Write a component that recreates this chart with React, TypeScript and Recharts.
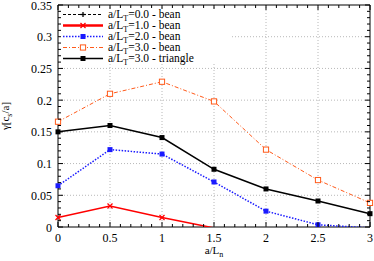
import React from 'react';
import { LineChart, Line, XAxis, YAxis, ReferenceLine, ReferenceArea } from 'recharts';

// ---- data ----
const aLn = [0, 0.5, 1, 1.5, 2, 2.5, 3];
const beanLT1 = [0.015, 0.033, 0.015, -0.0015, null, null, null];
const beanLT2 = [0.065, 0.122, 0.115, 0.071, 0.025, 0.0035, -0.0015];
const beanLT3 = [0.166, 0.21, 0.229, 0.198, 0.122, 0.074, 0.038];
const triLT3 = [0.15, 0.16, 0.141, 0.091, 0.06, 0.041, 0.021];

const xMajor = [0, 0.5, 1, 1.5, 2, 2.5, 3];
const yMajor = [0, 0.05, 0.1, 0.15, 0.2, 0.25, 0.3, 0.35];
const xGrid = [0.5, 1, 1.5, 2, 2.5];
const yGrid = [0.05, 0.1, 0.15, 0.2, 0.25, 0.3];

const xTicks: number[] = [];
for (let i = 0; i <= 30; i++) xTicks.push(Math.round(i) / 10);
const yTicks: number[] = [];
for (let i = 0; i <= 35; i++) yTicks.push(Math.round(i) / 100);

const data = aLn.map((x, i) => ({
  x,
  lt1: beanLT1[i],
  lt2: beanLT2[i],
  lt3: beanLT3[i],
  tri: triLT3[i],
}));

// ---- layout ----
const W = 374;
const H = 261;
const MARGIN = { top: 5, right: 4, left: 8, bottom: 4 };
const Y_AXIS_W = 50;
const X_AXIS_H = 30;
const PLOT = {
  left: MARGIN.left + Y_AXIS_W,
  right: W - MARGIN.right,
  top: MARGIN.top,
  bottom: H - MARGIN.bottom - X_AXIS_H,
};
const FONT = "'Liberation Serif', 'Times New Roman', 'DejaVu Serif', serif";

const RED = '#ff0000';
const BLUE = '#1a1aff';
const ORANGE = '#ff5a1a';
const BLACK = '#000000';

const isIn = (v: number, arr: number[]) => arr.some((a) => Math.abs(a - v) < 1e-9);

const XTick = (props: any) => {
  const { x, payload } = props;
  const v = payload.value;
  const major = isIn(v, xMajor);
  const len = major ? 5 : 3;
  return (
    <g>
      <line x1={x} x2={x} y1={PLOT.bottom} y2={PLOT.bottom - len} stroke="#000" strokeWidth={1} />
      <line x1={x} x2={x} y1={PLOT.top} y2={PLOT.top + len} stroke="#000" strokeWidth={1} />
      {major && (
        <text x={x} y={PLOT.bottom + 15} textAnchor="middle" style={{ fontFamily: FONT }} fontSize={12} fill="#000">
          {String(v)}
        </text>
      )}
    </g>
  );
};

const YTick = (props: any) => {
  const { y, payload } = props;
  const v = payload.value;
  const major = isIn(v, yMajor);
  const len = major ? 5 : 3;
  return (
    <g>
      <line x1={PLOT.left} x2={PLOT.left + len} y1={y} y2={y} stroke="#000" strokeWidth={1} />
      <line x1={PLOT.right} x2={PLOT.right - len} y1={y} y2={y} stroke="#000" strokeWidth={1} />
      {major && (
        <text x={PLOT.left - 6} y={y + 4.5} textAnchor="end" style={{ fontFamily: FONT }} fontSize={12} fill="#000">
          {String(v)}
        </text>
      )}
    </g>
  );
};

const CrossDot = (props: any) => {
  const { cx, cy, value, color } = props;
  if (value == null || value < 0 || cx == null) return null;
  const s = 2.5;
  return (
    <g>
      <line x1={cx - s} y1={cy - s} x2={cx + s} y2={cy + s} stroke={color} strokeWidth={1.3} />
      <line x1={cx - s} y1={cy + s} x2={cx + s} y2={cy - s} stroke={color} strokeWidth={1.3} />
    </g>
  );
};

const SquareDot = (props: any) => {
  const { cx, cy, value, color } = props;
  if (value == null || value < 0 || cx == null) return null;
  const s = 2.5;
  return <rect x={cx - s} y={cy - s} width={2 * s} height={2 * s} fill={color} stroke="none" />;
};

const OpenSquareDot = (props: any) => {
  const { cx, cy, value, color } = props;
  if (value == null || value < 0 || cx == null) return null;
  const s = 2.6;
  return <rect x={cx - s} y={cy - s} width={2 * s} height={2 * s} fill="#fff" stroke={color} strokeWidth={1} />;
};

const PlusDot = (props: any) => {
  const { cx, cy, color } = props;
  const s = 2.5;
  return (
    <g>
      <line x1={cx - s} y1={cy} x2={cx + s} y2={cy} stroke={color} strokeWidth={1.3} />
      <line x1={cx} y1={cy - s} x2={cx} y2={cy + s} stroke={color} strokeWidth={1.3} />
    </g>
  );
};

type LegendItem = {
  lt: string;
  shape: string;
  color: string;
  dash?: string;
  width: number;
  marker: (p: any) => any;
};

const legendItems: LegendItem[] = [
  { lt: '0.0', shape: 'bean', color: BLACK, dash: '3 2', width: 1, marker: PlusDot },
  { lt: '1.0', shape: 'bean', color: RED, width: 2.5, marker: CrossDot },
  { lt: '2.0', shape: 'bean', color: BLUE, dash: '1.5 1.5', width: 1.5, marker: SquareDot },
  { lt: '3.0', shape: 'bean', color: ORANGE, dash: '4 2 1 2', width: 1, marker: OpenSquareDot },
  { lt: '3.0', shape: 'triangle', color: BLACK, width: 1.5, marker: SquareDot },
];

const LegendBox = () => (
  <div
    style={{
      position: 'absolute',
      left: 61,
      top: 9,
      width: 169,
      height: 55,
      background: '#fff',
      fontFamily: FONT,
      fontSize: 11.5,
      color: '#000',
    }}
  >
    {legendItems.map((it, i) => (
      <div key={i} style={{ height: 11, display: 'flex', alignItems: 'center', whiteSpace: 'nowrap' }}>
        <svg width={47} height={11} style={{ display: 'block', flex: 'none' }}>
          <line x1={2} x2={42} y1={5.5} y2={5.5} stroke={it.color} strokeWidth={it.width} strokeDasharray={it.dash} />
          {it.marker({ cx: 22, cy: 5.5, value: 1, color: it.color })}
        </svg>
        <span style={{ lineHeight: '11px' }}>
          a/L
          <span style={{ fontSize: 8, position: 'relative', top: 3 }}>T</span>={it.lt} - {it.shape}
        </span>
      </div>
    ))}
  </div>
);

export default function App() {
  return (
    <div style={{ position: 'absolute', left: 0, top: 0, width: W, height: H, background: '#fff' }}>
      <LineChart width={W} height={H} data={data} margin={MARGIN}>
        {xGrid.map((v) => (
          <ReferenceLine key={'gx' + v} x={v} stroke="#b8b8b8" strokeDasharray="1 2" strokeWidth={1} />
        ))}
        {yGrid.map((v) => (
          <ReferenceLine key={'gy' + v} y={v} stroke="#b8b8b8" strokeDasharray="1 2" strokeWidth={1} />
        ))}
        <XAxis
          type="number"
          dataKey="x"
          domain={[0, 3]}
          ticks={xTicks}
          interval={0}
          height={X_AXIS_H}
          axisLine={false}
          tickLine={false}
          tick={<XTick />}
        />
        <YAxis
          type="number"
          domain={[0, 0.35]}
          ticks={yTicks}
          interval={0}
          width={Y_AXIS_W}
          allowDataOverflow
          axisLine={false}
          tickLine={false}
          tick={<YTick />}
        />
        <ReferenceArea x1={0} x2={3} y1={0} y2={0.35} fill="none" fillOpacity={0} stroke="#000" strokeWidth={1} />
        <Line
          dataKey="lt3"
          stroke={ORANGE}
          strokeWidth={1}
          strokeDasharray="4 2 1 2"
          dot={<OpenSquareDot color={ORANGE} />}
          isAnimationActive={false}
        />
        <Line
          dataKey="tri"
          stroke={BLACK}
          strokeWidth={1.5}
          dot={<SquareDot color={BLACK} />}
          isAnimationActive={false}
        />
        <Line
          dataKey="lt2"
          stroke={BLUE}
          strokeWidth={1.5}
          strokeDasharray="1.5 1.5"
          dot={<SquareDot color={BLUE} />}
          isAnimationActive={false}
        />
        <Line
          dataKey="lt1"
          stroke={RED}
          strokeWidth={1.5}
          dot={<CrossDot color={RED} />}
          isAnimationActive={false}
        />
      </LineChart>
      <LegendBox />
      <svg width={W} height={H} style={{ position: 'absolute', left: 0, top: 0, pointerEvents: 'none' }}>
        <text
          transform={`translate(9, ${(PLOT.top + PLOT.bottom) / 2}) rotate(-90)`}
          textAnchor="middle"
          style={{ fontFamily: FONT }}
          fontSize={11}
          fill="#000"
        >
          γ[c<tspan fontSize={8} dy={3}>s</tspan>
          <tspan dy={-3}>/a]</tspan>
        </text>
        <text
          x={(PLOT.left + PLOT.right) / 2}
          y={PLOT.bottom + 27}
          textAnchor="middle"
          style={{ fontFamily: FONT }}
          fontSize={11}
          fill="#000"
        >
          a/L<tspan fontSize={8} dy={3}>n</tspan>
        </text>
      </svg>
    </div>
  );
}
